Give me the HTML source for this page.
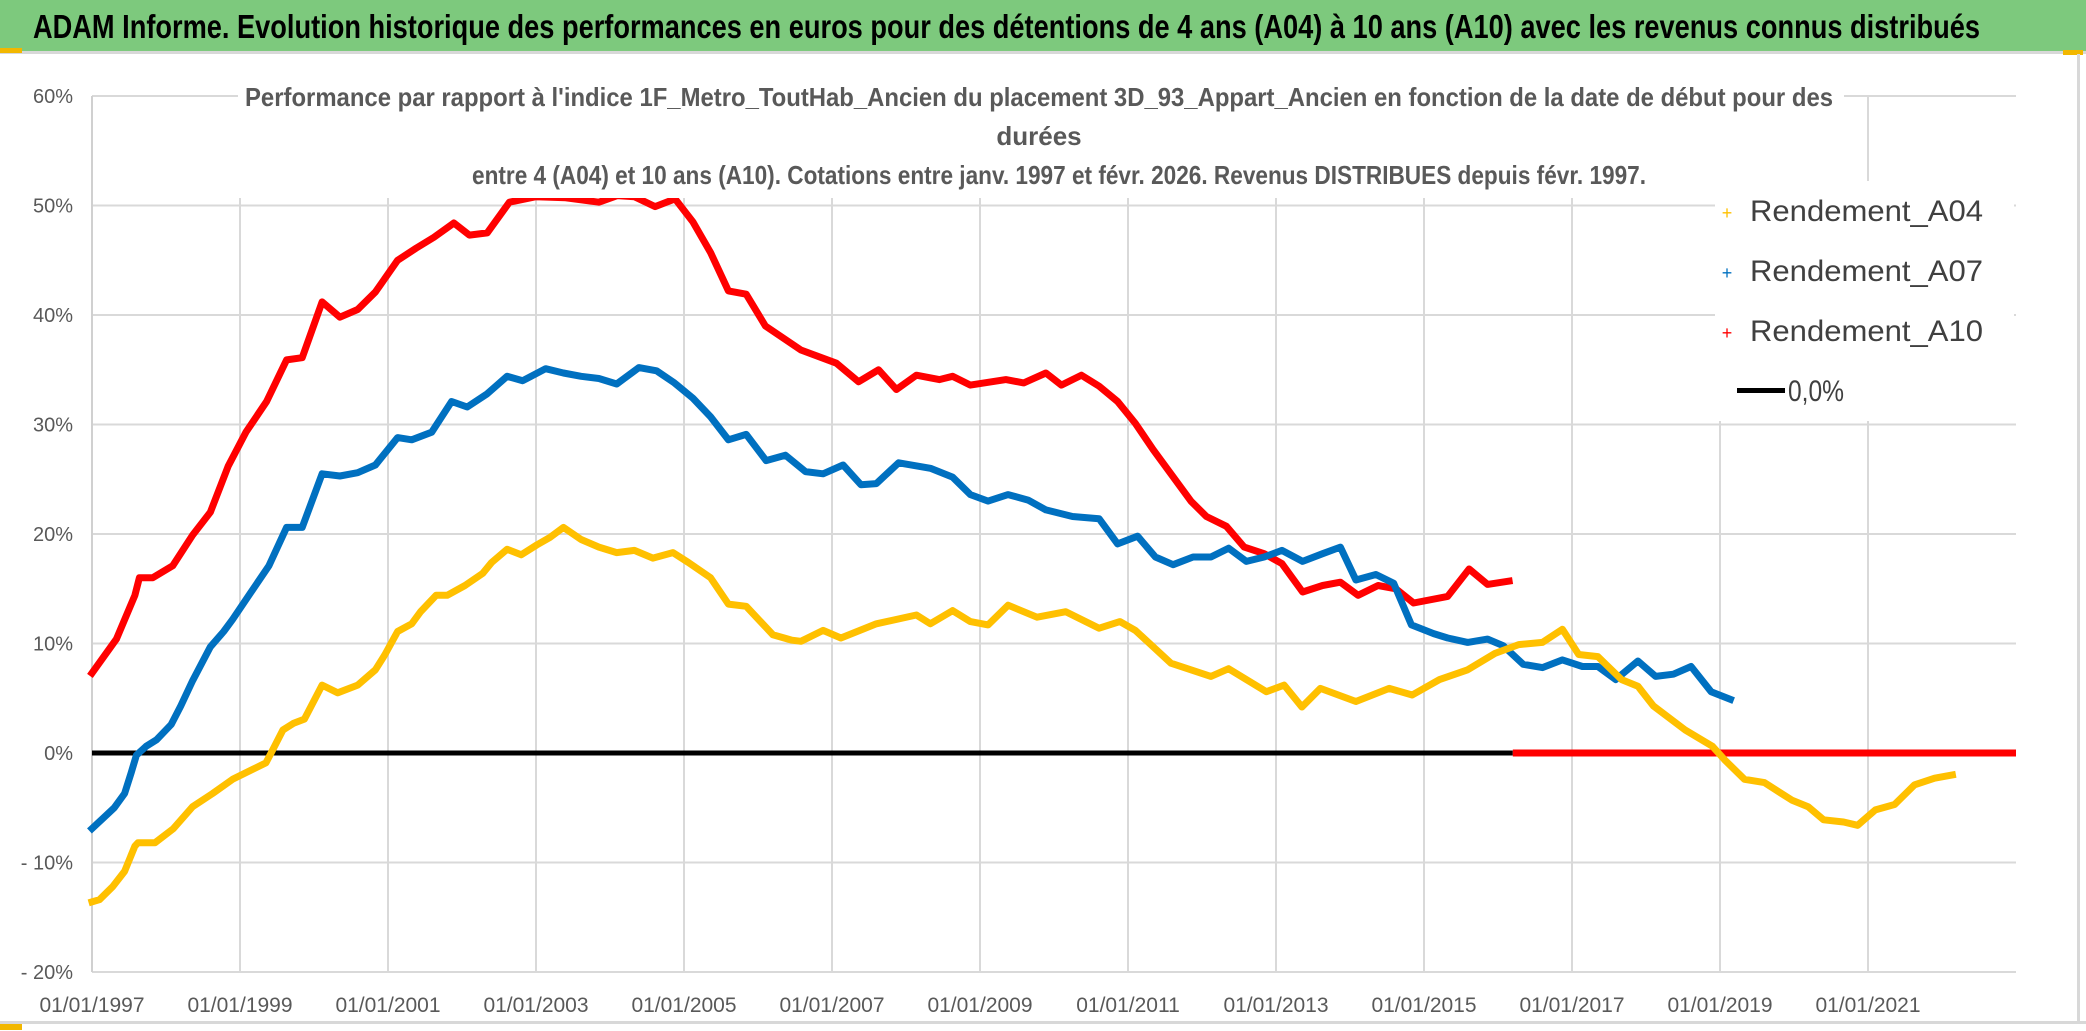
<!DOCTYPE html>
<html><head><meta charset="utf-8"><title>ADAM Informe</title>
<style>
html,body{margin:0;padding:0;background:#fff;}
svg{display:block;}
text{font-family:"Liberation Sans Narrow","Liberation Sans",sans-serif;}
</style></head>
<body>
<svg id="chart" width="2086" height="1031" viewBox="0 0 2086 1031" xmlns="http://www.w3.org/2000/svg">
  <rect x="0" y="0" width="2086" height="1031" fill="#ffffff"/>
  <rect x="0" y="0" width="2086" height="51" fill="#7dc97d"/>
  <rect x="0" y="51" width="2086" height="3" fill="#d8d8d8"/>
  <rect x="0" y="48" width="22" height="5" fill="#f2b700"/>
  <rect x="2063" y="50" width="20" height="5" fill="#f2b700"/>
  <rect x="2077" y="54" width="3" height="968" fill="#d8d8d8"/>
  <rect x="0" y="1021" width="2086" height="3" fill="#d8d8d8"/>
  <rect x="0" y="1024" width="22" height="6" fill="#f2b700"/>
  <text x="33" y="38" font-size="33" font-weight="bold" fill="#000" textLength="1947" lengthAdjust="spacingAndGlyphs">ADAM Informe. Evolution historique des performances en euros pour des détentions de 4 ans (A04) à 10 ans (A10) avec les revenus connus distribués</text>
  <g id="grid"></g>
  <g id="axes"></g>
  <g id="series"></g>
  <rect x="238" y="78" width="1606" height="120" fill="#fff"/>
  <g font-size="26" font-weight="bold" fill="#595959" text-anchor="middle">
    <text x="1039" y="106" textLength="1588" lengthAdjust="spacingAndGlyphs">Performance par rapport à l'indice 1F_Metro_ToutHab_Ancien  du placement 3D_93_Appart_Ancien en fonction de la date de début pour des</text>
    <text x="1039" y="145">durées</text>
    <text x="1059" y="184" textLength="1174" lengthAdjust="spacingAndGlyphs">entre 4 (A04) et 10 ans (A10). Cotations entre janv. 1997 et févr. 2026. Revenus DISTRIBUES depuis févr. 1997.</text>
  </g>
  <rect x="1715" y="181" width="299" height="240" fill="#fff"/>
  <g font-size="30" fill="#404040">
    <g>
      <text x="1727" y="219" font-size="18" fill="#ffc000" text-anchor="middle">+</text>
      <text x="1750" y="221" textLength="233" lengthAdjust="spacingAndGlyphs">Rendement_A04</text>
    </g>
    <g>
      <text x="1727" y="279" font-size="18" fill="#0070c0" text-anchor="middle">+</text>
      <text x="1750" y="281" textLength="233" lengthAdjust="spacingAndGlyphs">Rendement_A07</text>
    </g>
    <g>
      <text x="1727" y="339" font-size="18" fill="#ff0000" text-anchor="middle">+</text>
      <text x="1750" y="341" textLength="233" lengthAdjust="spacingAndGlyphs">Rendement_A10</text>
    </g>
    <g>
      <rect x="1737" y="388" width="48" height="5" fill="#000"/>
      <text x="1788" y="401" textLength="56" lengthAdjust="spacingAndGlyphs">0,0%</text>
    </g>
  </g>
</svg>
<script>
const yTicks = [60, 50, 40, 30, 20, 10, 0, -10, -20];
const yTickLabels = ["60%", "50%", "40%", "30%", "20%", "10%", "0%", "- 10%", "- 20%"];
const xTicks = [1997, 1999, 2001, 2003, 2005, 2007, 2009, 2011, 2013, 2015, 2017, 2019, 2021];
const xTickLabels = ["01/01/1997","01/01/1999","01/01/2001","01/01/2003","01/01/2005","01/01/2007","01/01/2009","01/01/2011","01/01/2013","01/01/2015","01/01/2017","01/01/2019","01/01/2021"];

const yearsA04 = [1997.0,1997.1,1997.28,1997.44,1997.58,1997.62,1997.85,1998.1,1998.36,1998.63,1998.9,1999.17,1999.35,1999.42,1999.58,1999.72,1999.87,2000.11,2000.32,2000.59,2000.83,2000.96,2001.13,2001.32,2001.44,2001.65,2001.8,2002.04,2002.28,2002.4,2002.61,2002.8,2003.01,2003.19,2003.37,2003.61,2003.85,2004.09,2004.33,2004.58,2004.85,2005.06,2005.36,2005.6,2005.84,2006.2,2006.46,2006.58,2006.88,2007.12,2007.6,2008.14,2008.33,2008.63,2008.87,2009.11,2009.38,2009.77,2010.16,2010.61,2010.89,2011.1,2011.58,2012.12,2012.36,2012.87,2013.11,2013.35,2013.6,2014.08,2014.53,2014.84,2015.21,2015.59,2015.96,2016.28,2016.6,2016.87,2017.09,2017.35,2017.67,2017.89,2018.1,2018.53,2018.9,2019.06,2019.33,2019.6,2019.97,2020.19,2020.4,2020.67,2020.86,2021.1,2021.36,2021.63,2021.9,2022.14];
const valsA04 = [-13.6,-13.4,-12.2,-10.8,-8.5,-8.2,-8.2,-6.9,-4.9,-3.7,-2.4,-1.5,-0.9,0,2.1,2.7,3.1,6.2,5.5,6.2,7.6,9.0,11.1,11.8,12.9,14.4,14.4,15.3,16.4,17.4,18.6,18.1,19.0,19.7,20.6,19.5,18.8,18.3,18.5,17.8,18.3,17.4,16.0,13.6,13.4,10.8,10.3,10.2,11.2,10.5,11.8,12.6,11.8,13.0,12.0,11.7,13.5,12.4,12.9,11.4,12.0,11.2,8.2,7.0,7.7,5.6,6.2,4.2,5.9,4.7,5.9,5.3,6.7,7.6,9.1,9.9,10.1,11.3,9.0,8.8,6.7,6.1,4.3,2.1,0.6,-0.6,-2.4,-2.7,-4.3,-4.9,-6.1,-6.3,-6.6,-5.2,-4.7,-2.9,-2.3,-2.0];

const yearsA07 = [1997.0,1997.16,1997.3,1997.44,1997.53,1997.6,1997.73,1997.87,1998.07,1998.2,1998.36,1998.6,1998.78,1998.9,1999.14,1999.39,1999.63,1999.84,2000.11,2000.35,2000.59,2000.83,2001.13,2001.32,2001.59,2001.86,2002.07,2002.34,2002.61,2002.82,2003.13,2003.37,2003.61,2003.85,2004.09,2004.39,2004.63,2004.87,2005.12,2005.36,2005.6,2005.84,2006.11,2006.37,2006.64,2006.88,2007.15,2007.39,2007.6,2007.9,2008.33,2008.63,2008.87,2009.11,2009.38,2009.65,2009.89,2010.25,2010.61,2010.86,2011.13,2011.37,2011.61,2011.88,2012.12,2012.36,2012.6,2012.84,2013.08,2013.36,2013.63,2013.87,2014.08,2014.35,2014.59,2014.83,2015.13,2015.32,2015.59,2015.86,2016.07,2016.34,2016.6,2016.87,2017.14,2017.35,2017.59,2017.89,2018.13,2018.37,2018.61,2018.88,2019.14];
const valsA07 = [-6.9,-5.9,-5.0,-3.7,-1.8,-0.2,0.6,1.2,2.6,4.3,6.6,9.7,11.1,12.2,14.6,17.1,20.6,20.6,25.5,25.3,25.6,26.3,28.8,28.6,29.3,32.1,31.6,32.8,34.4,34.0,35.1,34.7,34.4,34.2,33.7,35.2,34.9,33.8,32.4,30.7,28.6,29.1,26.7,27.2,25.7,25.5,26.3,24.5,24.6,26.5,26.0,25.2,23.6,23.0,23.6,23.1,22.2,21.6,21.4,19.1,19.8,17.9,17.2,17.9,17.9,18.7,17.5,17.9,18.5,17.5,18.2,18.8,15.8,16.3,15.5,11.7,10.9,10.5,10.1,10.4,9.8,8.1,7.8,8.5,7.9,7.9,6.7,8.4,7.0,7.2,7.9,5.6,4.9];

const yearsA10 = [1997.0,1997.33,1997.58,1997.64,1997.82,1998.09,1998.36,1998.6,1998.84,1999.08,1999.36,1999.63,1999.84,2000.11,2000.35,2000.59,2000.83,2001.13,2001.38,2001.62,2001.89,2002.1,2002.34,2002.64,2003.0,2003.4,2003.85,2004.1,2004.33,2004.61,2004.88,2005.12,2005.36,2005.6,2005.84,2006.1,2006.58,2007.06,2007.36,2007.63,2007.87,2008.14,2008.45,2008.63,2008.87,2009.35,2009.59,2009.89,2010.1,2010.37,2010.61,2010.86,2011.1,2011.34,2011.58,2011.85,2012.06,2012.33,2012.57,2012.84,2013.08,2013.36,2013.63,2013.87,2014.11,2014.38,2014.62,2014.86,2015.32,2015.61,2015.86,2016.15];
const valsA10 = [7.3,10.4,14.4,16.0,16.0,17.1,19.9,22.0,26.2,29.3,32.1,35.9,36.1,41.2,39.8,40.5,42.1,45.0,46.1,47.1,48.4,47.3,47.5,50.3,50.8,50.7,50.3,50.9,50.8,49.9,50.6,48.5,45.7,42.2,41.9,39.0,36.8,35.6,33.9,35.0,33.2,34.5,34.1,34.4,33.6,34.1,33.8,34.7,33.6,34.5,33.5,32.1,30.1,27.7,25.5,23.0,21.6,20.7,18.8,18.2,17.3,14.7,15.3,15.6,14.4,15.3,15.0,13.7,14.3,16.8,15.4,15.7];
const zeroTailA10 = [2016.2, 2023.0];
const zeroTailA04 = [2022.2, 2023.0];
const zeroLineRange = [1997.0, 2016.2];

const X0 = 92, PX_PER_YEAR = 74, Y0 = 753, PX_PER_PCT = 10.95;
function xScale(yr){ return X0 + (yr - 1997) * PX_PER_YEAR; }
function yScale(v){ return Y0 - v * PX_PER_PCT; }
const NS = "http://www.w3.org/2000/svg";
function mk(tag, attrs){ const e = document.createElementNS(NS, tag); for (const k in attrs) e.setAttribute(k, attrs[k]); return e; }

const grid = document.getElementById('grid');
const axes = document.getElementById('axes');
const xEnd = xScale(2023);
yTicks.forEach((t, i) => {
  const y = yScale(t);
  if (t !== 0) {
    const l = mk('line', {x1: X0, x2: xEnd, y1: y, y2: y, stroke: '#d9d9d9', 'stroke-width': 2});
    
    
    grid.appendChild(l);
  }
  const tx = mk('text', {x: 73, y: y + 7, 'text-anchor': 'end', 'font-size': 20, fill: '#595959'});
  tx.textContent = yTickLabels[i];
  
  
  axes.appendChild(tx);
});
xTicks.forEach((t, i) => {
  const x = xScale(t);
  const l = mk('line', {x1: x, x2: x, y1: yScale(60), y2: yScale(-20), stroke: '#d9d9d9', 'stroke-width': 2});
  
  
  grid.appendChild(l);
  const tx = mk('text', {x: x, y: 1012, 'text-anchor': 'middle', 'font-size': 21, fill: '#595959'});
  tx.textContent = xTickLabels[i];
  
  
  axes.appendChild(tx);
});

const series = document.getElementById('series');
const zl = mk('line', {x1: xScale(zeroLineRange[0]), x2: xScale(zeroLineRange[1]), y1: yScale(0), y2: yScale(0), stroke: '#000', 'stroke-width': 5});


series.appendChild(zl);

function drawSeries(years, vals, color, name){
  const pts = years.map((y, i) => xScale(y).toFixed(1) + ',' + yScale(vals[i]).toFixed(1)).join(' ');
  const p = mk('polyline', {points: pts, fill: 'none', stroke: color, 'stroke-width': 7, 'stroke-linejoin': 'round', 'stroke-linecap': 'square'});
  
  
  series.appendChild(p);
}
function drawTail(range, color, name){
  const l = mk('line', {x1: xScale(range[0]), x2: xScale(range[1]), y1: yScale(0), y2: yScale(0), stroke: color, 'stroke-width': 7});
  
  
  series.appendChild(l);
}
drawTail(zeroTailA04, '#ffc000', 'series-a04-zero-tail');
drawSeries(yearsA10, valsA10, '#ff0000', 'series-rendement-a10');
drawTail(zeroTailA10, '#ff0000', 'series-a10-zero-tail');
drawSeries(yearsA07, valsA07, '#0070c0', 'series-rendement-a07');
drawSeries(yearsA04, valsA04, '#ffc000', 'series-rendement-a04');

const ax = mk('line', {x1: X0, x2: X0, y1: yScale(60), y2: yScale(-20), stroke: '#d0d0d0', 'stroke-width': 2});


grid.appendChild(ax);
</script>
</body></html>
